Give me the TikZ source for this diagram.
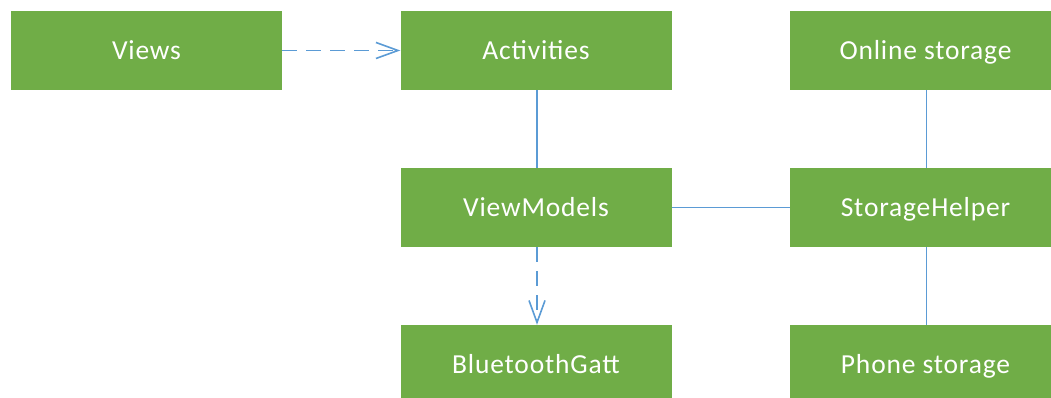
\documentclass[tikz,border=0pt]{standalone}
\usepackage{fontspec}
\setmainfont[LetterSpace=3]{Carlito}
\usetikzlibrary{arrows.meta}
\definecolor{boxgreen}{HTML}{70AD47}
\definecolor{linkblue}{HTML}{5B9BD5}
\begin{document}
\begin{tikzpicture}[x=1pt,y=1pt,
  block/.style={fill=boxgreen, draw=none, minimum width=271pt, minimum height=79pt,
    inner sep=0pt, text=white, text height=24pt, text depth=5pt,
    font=\fontsize{27.5}{30}\selectfont},
  link/.style={draw=linkblue, line width=1.6pt},
  uses/.style={link, dash pattern=on 15pt off 9pt,
    -{Straight Barb[length=22pt,width=16pt,line width=1.6pt]}}]
\useasboundingbox (0,0) rectangle (1051,398);
% left column
\node[block] (views) at (146.5,347.5) {Views};
% middle column
\node[block] (act) at (536,347.5) {Activities};
\node[block] (vm) at (536,190.5) {ViewModels};
\node[block] (gatt) at (536,33.5) {BluetoothGatt};
% right column
\node[block] (online) at (925.5,347.5) {Online storage};
\node[block] (helper) at (925.5,190.5) {StorageHelper};
\node[block] (phone) at (925.5,33.5) {Phone storage};
% connectors
\draw[uses] (views.east) -- (act.west);
\draw[uses] ([xshift=1pt]vm.south) -- ([xshift=1pt]gatt.north);
\draw[link] ([xshift=1pt]act.south) -- ([xshift=1pt]vm.north);
\draw[link] (vm.east) -- (helper.west);
\draw[link] ([xshift=1pt]online.south) -- ([xshift=1pt]helper.north);
\draw[link] ([xshift=1pt]helper.south) -- ([xshift=1pt]phone.north);
\end{tikzpicture}
\end{document}
